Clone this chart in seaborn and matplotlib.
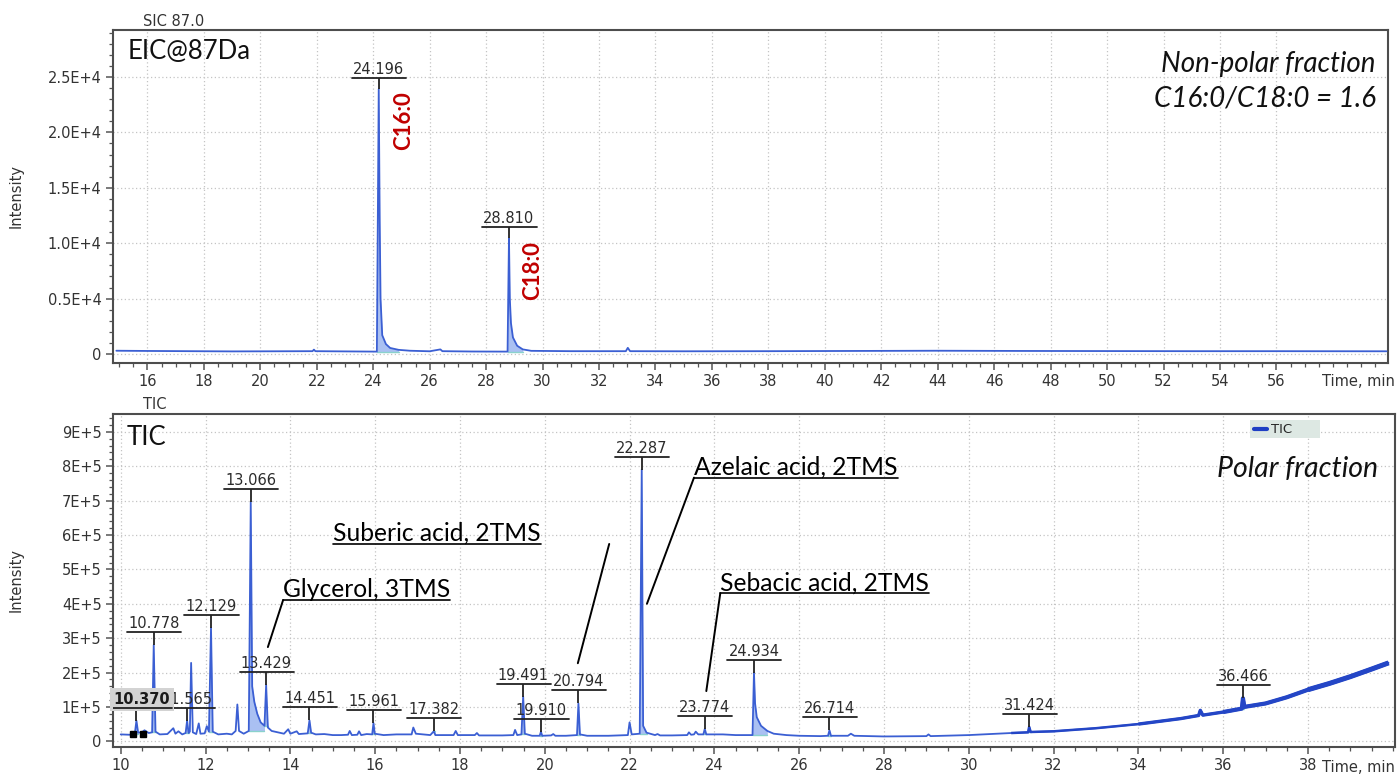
import matplotlib
matplotlib.use("Agg")
import numpy as np
import matplotlib.pyplot as plt
import seaborn as sns
from matplotlib.ticker import FixedLocator, FixedFormatter, MultipleLocator
from matplotlib.patches import Rectangle

# ---------------- data ----------------
eic_time = [14.90, 16.00, 17.50, 19.00, 20.50, 21.85, 21.90, 21.95, 23.00, 24.13,
            24.196, 24.23, 24.26, 24.32, 24.45, 24.60, 24.90, 25.30, 26.00, 26.38,
            26.45, 27.50, 28.76, 28.81, 28.84, 28.88, 28.95, 29.10, 29.30, 29.60,
            31.00, 32.95, 33.02, 33.10, 35.00, 38.00, 41.00, 44.00, 47.00, 50.00,
            53.00, 56.00, 59.90]
eic_intensity = [300, 280, 260, 240, 250, 260, 400, 260, 240, 220,
                 23900, 12000, 5000, 1700, 900, 550, 380, 300, 250, 420,
                 260, 230, 220, 10430, 5000, 2800, 1500, 750, 420, 290,
                 260, 260, 560, 260, 250, 260, 280, 300, 280, 270,
                 260, 260, 250]
eic_peak_rt = [24.196, 28.81]
eic_peak_text = ["24.196", "28.810"]
eic_peak_tail = [0.9, 0.7]

tic_time = [10.00, 10.20, 10.33, 10.37, 10.41, 10.50, 10.56, 10.66, 10.74, 10.778,
            10.82, 10.92, 11.10, 11.24, 11.29, 11.36, 11.45, 11.53, 11.565, 11.60,
            11.63, 11.66, 11.70, 11.78, 11.84, 11.88, 11.98, 12.03, 12.08, 12.129,
            12.17, 12.30, 12.50, 12.62, 12.71, 12.75, 12.79, 12.90, 13.02, 13.066,
            13.10, 13.15, 13.22, 13.30, 13.39, 13.429, 13.47, 13.56, 13.70, 13.85,
            13.95, 14.00, 14.15, 14.20, 14.41, 14.451, 14.49, 14.60, 14.80, 15.00,
            15.20, 15.36, 15.40, 15.45, 15.58, 15.62, 15.67, 15.80, 15.93, 15.961,
            15.99, 16.20, 16.50, 16.86, 16.90, 16.96, 17.30, 17.382, 17.42, 17.85,
            17.90, 17.95, 18.35, 18.40, 18.45, 19.00, 19.26, 19.30, 19.35, 19.45,
            19.491, 19.53, 19.70, 19.88, 19.91, 19.94, 20.15, 20.20, 20.25, 20.50,
            20.76, 20.794, 20.83, 21.00, 21.50, 21.96, 22.00, 22.05, 22.24, 22.287,
            22.32, 22.40, 22.60, 22.66, 22.72, 23.00, 23.36, 23.40, 23.45, 23.52,
            23.56, 23.62, 23.74, 23.774, 23.81, 24.20, 24.50, 24.90, 24.934, 24.96,
            25.00, 25.10, 25.25, 25.40, 25.70, 26.00, 26.50, 26.68, 26.714, 26.75,
            27.15, 27.22, 27.30, 28.00, 29.00, 29.05, 29.10, 30.00, 31.00, 31.40,
            31.424, 31.46, 32.00, 33.00, 34.00, 35.00, 35.42, 35.46, 35.52, 36.00,
            36.44, 36.466, 36.50, 37.00, 37.50, 38.00, 38.50, 39.00, 39.50, 39.90]
tic_intensity = [2.0e4, 1.9e4, 2.0e4, 6.0e4, 2.5e4, 2.6e4, 3.2e4, 2.4e4, 2.6e4, 2.8e5,
                 2.8e4, 2.0e4, 2.1e4, 3.8e4, 2.2e4, 2.9e4, 2.0e4, 2.4e4, 6.0e4, 2.4e4,
                 2.8e4, 2.28e5, 2.6e4, 2.1e4, 5.2e4, 2.2e4, 2.3e4, 4.4e4, 2.8e4, 3.3e5,
                 2.8e4, 2.0e4, 2.2e4, 2.0e4, 3.0e4, 1.07e5, 3.0e4, 2.2e4, 3.0e4, 6.95e5,
                 1.6e5, 1.15e5, 8.0e4, 5.5e4, 4.5e4, 1.64e5, 4.0e4, 3.0e4, 2.6e4, 2.2e4,
                 3.5e4, 2.2e4, 2.9e4, 2.1e4, 2.3e4, 6.1e4, 2.5e4, 2.0e4, 2.1e4, 1.8e4,
                 1.8e4, 1.9e4, 3.0e4, 1.8e4, 1.9e4, 2.9e4, 1.8e4, 2.1e4, 2.0e4, 5.3e4,
                 2.2e4, 1.8e4, 2.0e4, 2.0e4, 4.0e4, 2.2e4, 1.8e4, 2.9e4, 1.8e4, 1.8e4,
                 3.0e4, 1.8e4, 1.8e4, 2.4e4, 1.7e4, 1.7e4, 1.8e4, 3.3e4, 1.8e4, 2.0e4,
                 1.3e5, 2.2e4, 1.6e4, 1.6e4, 2.8e4, 1.6e4, 1.7e4, 2.1e4, 1.6e4, 1.6e4,
                 1.8e4, 1.1e5, 2.0e4, 1.6e4, 1.6e4, 1.8e4, 5.5e4, 2.0e4, 2.2e4, 7.9e5,
                 4.5e4, 2.5e4, 1.8e4, 2.1e4, 1.7e4, 1.7e4, 1.8e4, 2.6e4, 1.9e4, 2.0e4,
                 2.8e4, 2.0e4, 2.0e4, 3.6e4, 2.0e4, 2.0e4, 1.8e4, 1.8e4, 2.0e5, 1.1e5,
                 7.0e4, 4.5e4, 3.0e4, 2.2e4, 1.8e4, 1.6e4, 1.5e4, 1.6e4, 3.2e4, 1.6e4,
                 1.6e4, 2.2e4, 1.6e4, 1.4e4, 1.5e4, 2.0e4, 1.5e4, 1.8e4, 2.4e4, 2.6e4,
                 4.2e4, 2.7e4, 2.9e4, 3.8e4, 5.0e4, 6.6e4, 7.5e4, 9.0e4, 7.6e4, 8.5e4,
                 9.5e4, 1.25e5, 1.0e5, 1.1e5, 1.28e5, 1.5e5, 1.68e5, 1.88e5, 2.1e5, 2.28e5]
tic_peak_rt = [10.37, 10.778, 11.565, 12.129, 13.066, 13.429, 14.451, 15.961, 17.382,
               19.491, 19.91, 20.794, 22.287, 23.774, 24.934, 26.714, 31.424, 36.466]
tic_peak_text = ["10.370", "10.778", "11.565", "12.129", "13.066", "13.429", "14.451",
                 "15.961", "17.382", "19.491", "19.910", "20.794", "22.287", "23.774",
                 "24.934", "26.714", "31.424", "36.466"]
tic_peak_tail = [0.05, 0.05, 0.05, 0.05, 0.35, 0.05, 0.05, 0.05, 0.05,
                 0.05, 0.05, 0.05, 0.12, 0.05, 0.45, 0.05, 0.05, 0.05]

compound_names = ["Glycerol, 3TMS", "Suberic acid, 2TMS", "Azelaic acid, 2TMS", "Sebacic acid, 2TMS"]
compound_text_x = [13.83, 15.01, 23.52, 24.14]
compound_text_y = [4.11e5, 5.74e5, 7.67e5, 4.31e5]
leader_start = [(13.83, 4.11e5), (21.52, 5.74e5), (23.52, 7.67e5), (24.14, 4.31e5)]
leader_end = [(13.47, 2.74e5), (20.78, 2.27e5), (22.41, 4.0e5), (23.81, 1.46e5)]

eic_xticks = list(range(16, 57, 2))
eic_yticks = [0, 5000, 10000, 15000, 20000, 25000]
eic_yticklabels = ["0", "0.5E+4", "1.0E+4", "1.5E+4", "2.0E+4", "2.5E+4"]
tic_xticks = list(range(10, 39, 2))
tic_yticks = [0, 1e5, 2e5, 3e5, 4e5, 5e5, 6e5, 7e5, 8e5, 9e5]
tic_yticklabels = ["0", "1E+5", "2E+5", "3E+5", "4E+5", "5E+5", "6E+5", "7E+5", "8E+5", "9E+5"]

# ---------------- style ----------------
sns.set_theme(style="white")
plt.rcParams["font.family"] = ["DejaVu Sans"]
LINE = "#3b5fd3"
FILL = "#aac0f2"
TEAL = "#8ad2cc"
ANN_FONT = ["Lato", "DejaVu Sans"]

fig = plt.figure(figsize=(13.98, 7.76), dpi=100)
ax1 = fig.add_axes([0.0806, 0.5326, 0.9122, 0.4287])
ax2 = fig.add_axes([0.0806, 0.0374, 0.9172, 0.4291])

sns.lineplot(x=eic_time, y=eic_intensity, ax=ax1, color=LINE, lw=1.3, sort=False,
             estimator=None, zorder=3)
sns.lineplot(x=tic_time, y=tic_intensity, ax=ax2, color=LINE, lw=1.3, sort=False,
             estimator=None, zorder=3, label="TIC")
# noisy, increasingly thick looking tail of the TIC trace
tt = np.array(tic_time); ti = np.array(tic_intensity)
for start, lw in [(31.0, 1.8), (34.0, 2.4), (36.0, 3.0), (38.0, 3.6)]:
    m = tt >= start
    ax2.plot(tt[m], ti[m], color="#2446c6", lw=lw, zorder=3, solid_capstyle="butt")


def style_axes(ax, xlim, ylim, xticks, yticks, ylabels, yminor):
    ax.set_xlim(*xlim)
    ax.set_ylim(*ylim)
    ax.xaxis.set_major_locator(FixedLocator(xticks))
    ax.xaxis.set_major_formatter(FixedFormatter([str(v) for v in xticks]))
    ax.yaxis.set_major_locator(FixedLocator(yticks))
    ax.yaxis.set_major_formatter(FixedFormatter(ylabels))
    ax.xaxis.set_minor_locator(MultipleLocator(0.5))
    ax.yaxis.set_minor_locator(MultipleLocator(yminor))
    ax.tick_params(which="both", direction="out", color="#555555", bottom=True, left=True,
                   top=False, right=False)
    ax.tick_params(which="major", length=5, width=1.1, labelsize=10.5, labelcolor="#333333", pad=3)
    ax.tick_params(which="minor", length=3, width=0.9)
    for s in ax.spines.values():
        s.set_color("#4d4d4d")
        s.set_linewidth(1.5)
    ax.set_axisbelow(True)
    ax.grid(True, which="major", color="#c4c4c4", linestyle=(0, (1, 2)), linewidth=0.9)
    ax.set_xlabel("")
    ax.set_ylabel("Intensity", fontsize=10.5, color="#333333")
    ax.yaxis.set_label_coords(-0.0696, 0.5)


style_axes(ax1, (14.77, 59.95), (-780, 29230), eic_xticks, eic_yticks, eic_yticklabels, 1000)
style_axes(ax2, (9.81, 40.05), (-1.66e4, 9.52e5), tic_xticks, tic_yticks, tic_yticklabels, 2e4)

renderer = fig.canvas.get_renderer()


def shade_peaks(ax, times, ints, rts, tails):
    t = np.array(times); y = np.array(ints)
    for rt, tail in zip(rts, tails):
        m = (t >= rt - 0.07) & (t <= rt + tail)
        base = y[m][0]
        ax.fill_between(t[m], y[m], base, color=FILL, lw=0, zorder=2.5)
        ax.plot([t[m][0], t[m][-1]], [base, base], color=TEAL, lw=1.0, zorder=2.6)


def label_peaks(ax, times, ints, rts, texts, gap_px):
    inv = ax.transData.inverted()
    for rt, txt in zip(rts, texts):
        h = ints[times.index(rt)]
        xd, yd = ax.transData.transform((rt, h))
        ybar = inv.transform((xd, yd + gap_px))[1]
        ytxt = inv.transform((xd, yd + gap_px + 4))[1]
        special = (txt == "10.370")
        tx = 10.50 if special else rt
        kw = dict(ha="center", va="baseline", fontsize=10.5, color="#2b2b2b", zorder=6)
        if special:
            kw.update(fontweight="bold", color="#1a1a1a", zorder=8,
                      bbox=dict(boxstyle="square,pad=0.28", facecolor="#d3d3d3", edgecolor="none"))
        t = ax.text(tx, ytxt, txt, **kw)
        bb = t.get_window_extent(renderer)
        x0 = inv.transform((bb.x0 - 1, 0))[0]
        x1 = inv.transform((bb.x1 + 2, 0))[0]
        ax.plot([rt, rt], [h, ybar], color="#222222", lw=1.3, zorder=5, solid_capstyle="butt")
        ax.plot([x0, x1], [ybar, ybar], color="#222222", lw=1.3, zorder=9 if special else 5)


shade_peaks(ax1, eic_time, eic_intensity, eic_peak_rt, eic_peak_tail)
shade_peaks(ax2, tic_time, tic_intensity, tic_peak_rt, tic_peak_tail)
label_peaks(ax1, eic_time, eic_intensity, eic_peak_rt, eic_peak_text, 11)
label_peaks(ax2, tic_time, tic_intensity, tic_peak_rt, tic_peak_text, 13)

# integration markers at the first peak
ax2.plot([10.28, 10.52], [2.2e4, 2.2e4], ls="none", marker="s", ms=4.5, color="black", zorder=7)

# compound annotations (underlined) + leaders
inv2 = ax2.transData.inverted()
for name, x, y in zip(compound_names, compound_text_x, compound_text_y):
    xd, yd = ax2.transData.transform((x, y))
    ytxt = inv2.transform((xd, yd + 3))[1]
    t = ax2.text(x, ytxt, name, ha="left", va="baseline", fontsize=17.7, family=ANN_FONT,
                 color="black", zorder=7)
    bb = t.get_window_extent(renderer)
    x1 = inv2.transform((bb.x1, 0))[0]
    ax2.plot([x, x1], [y, y], color="black", lw=1.2, zorder=7)
for (xs, ys), (xe, ye) in zip(leader_start, leader_end):
    ax2.plot([xs, xe], [ys, ye], color="black", lw=1.4, zorder=7)

# red fatty-acid labels
ax1.text(25.07, 21040, "C16:0", rotation=90, ha="center", va="center", fontsize=16,
         fontweight="bold", color="#c00000", family=ANN_FONT, zorder=7)
ax1.text(29.64, 7550, "C18:0", rotation=90, ha="center", va="center", fontsize=16,
         fontweight="bold", color="#c00000", family=ANN_FONT, zorder=7)

# panel texts
ax1.text(0.012, 0.913, "EIC@87Da", transform=ax1.transAxes, ha="left", va="baseline",
         fontsize=18.5, family=ANN_FONT, color="#111111")
ax2.text(0.011, 0.907, "TIC", transform=ax2.transAxes, ha="left", va="baseline",
         fontsize=18.5, family=ANN_FONT, color="#111111")
ax1.text(0.9906, 0.875, "Non-polar fraction", transform=ax1.transAxes, ha="right",
         va="baseline", fontsize=20, style="italic", family=ANN_FONT, color="#111111")
ax1.text(0.9906, 0.769, "C16:0/C18:0 = 1.6", transform=ax1.transAxes, ha="right",
         va="baseline", fontsize=20, style="italic", family=ANN_FONT, color="#111111")
ax2.text(0.9867, 0.811, "Polar fraction", transform=ax2.transAxes, ha="right",
         va="baseline", fontsize=20.5, style="italic", family=ANN_FONT, color="#111111")

fig.text(143 / 1398, 1 - 21 / 776, "SIC 87.0", ha="left", va="center", fontsize=10.5, color="#333333")
fig.text(143 / 1398, 1 - 404 / 776, "TIC", ha="left", va="center", fontsize=10.5, color="#333333")
fig.text(1395 / 1398, 1 - 381 / 776, "Time, min", ha="right", va="center", fontsize=10.5, color="#333333")
fig.text(1395 / 1398, 1 - 767 / 776, "Time, min", ha="right", va="center", fontsize=10.5, color="#333333")

# legend on a light panel like the instrument software
ax2.add_patch(Rectangle((0.887, 0.928), 0.0546, 0.054, transform=ax2.transAxes,
                        facecolor="#dde8e3", edgecolor="none", zorder=8))
leg = ax2.legend(loc="upper left", bbox_to_anchor=(0.887, 0.984), frameon=False,
                 fontsize=9.5, handlelength=1.0, handletextpad=0.3, borderpad=0.3,
                 borderaxespad=0)
leg.set_zorder(9)
for ln in leg.get_lines():
    ln.set_color("#1f3fc4")
    ln.set_linewidth(3)

fig.savefig("out.png", dpi=100)
